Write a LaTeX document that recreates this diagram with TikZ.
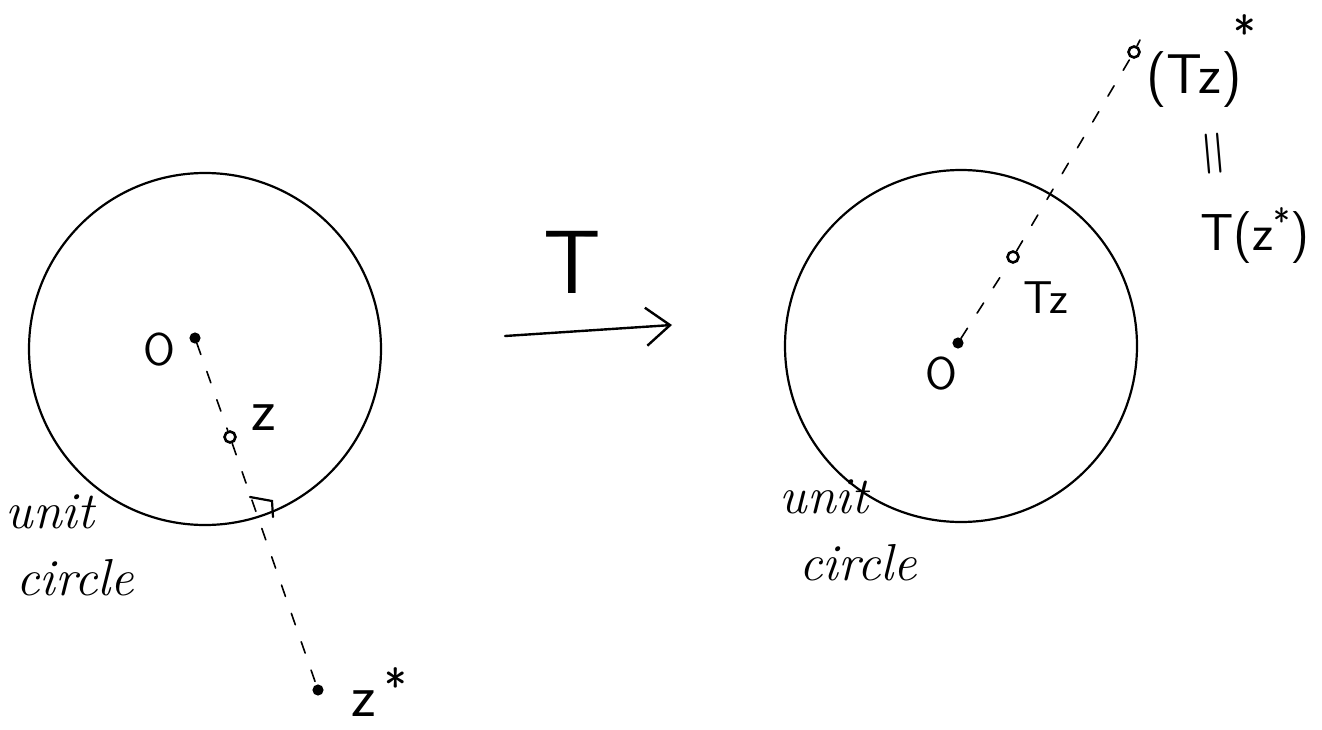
\documentclass[tikz,border=0pt]{standalone}
\usetikzlibrary{arrows.meta}
\begin{document}
\begin{tikzpicture}[x=1pt,y=-1pt,line cap=round,
  ring/.style={circle,draw,line width=2.2pt,minimum size=352pt,inner sep=0pt},
  pt/.style={circle,draw,line width=2.6pt,inner sep=0pt,minimum size=11pt,fill=white},
  fpt/.style={circle,draw,line width=2pt,inner sep=0pt,minimum size=9pt,fill=black},
  lbl/.style={font=\sffamily\fontsize{46}{50}\selectfont,inner sep=0pt},
  zl/.style={font=\sffamily\fontsize{60}{64}\selectfont,inner sep=0pt},
  big/.style={font=\sffamily\fontsize{90}{96}\selectfont,inner sep=0pt},
  star/.style={font=\sffamily\fontsize{48}{52}\selectfont,inner sep=0pt},
  cursive/.style={font=\itshape\fontsize{52}{56}\selectfont,inner sep=0pt},
  dline/.style={line width=1.6pt,dash pattern=on 12pt off 18pt}]
\useasboundingbox (0,0) rectangle (1322,730);
% left circle
\node[ring] (c1) at (205,349) {};
\node[fpt] (o1) at (195,338) {};
\node[lbl] (o1l) at (159,350) {O};
\node[pt] (z1) at (230,437) {};
\node[zl] (z1l) at (264,418) {z};
\node[fpt] (zs1) at (318,690) {};
\node[zl] (zs1l) at (364,704) {z};
\node[star] (zs1s) at (396,686) {*};
\draw[dline] (o1) -- (z1);
\draw[dline] (z1) -- (zs1);
\draw[line width=2.2pt] (250,497) -- (272,501) -- (273,517);
\node[cursive] (u1) at (50,512) {unit};
\node[cursive] (ci1) at (75,578) {circle};
% arrow
\coordinate (a1) at (505,336);
\coordinate (a2) at (672,325);
\draw[line width=2.4pt,-{Straight Barb[length=24pt,width=38pt]}] (a1) -- (a2);
\node[big] (t) at (572,262) {T};
% right circle
\node[ring] (c2) at (961,346) {};
\node[fpt] (o2) at (958,343) {};
\node[lbl] (o2l) at (941,374) {O};
\node[pt] (tz) at (1013,257) {};
\node[lbl] (tzl) at (1046,298) {Tz};
\node[pt] (tzs) at (1134,52) {};
\coordinate (end2) at (1140,40);
\draw[dline] (o2) -- (tz);
\draw[dline] (tz) -- (tzs);
\draw[line width=1.6pt] (tzs) -- (end2);
\node[lbl,font=\sffamily\fontsize{56}{60}\selectfont] (tzsl) at (1194,80) {(Tz)};
\node[star] (tzss) at (1245,33) {*};
\node[lbl,rotate=95,font=\sffamily\fontsize{64}{68}\selectfont] (eq) at (1218,153) {=};
\node[lbl,font=\sffamily\fontsize{52}{56}\selectfont,anchor=west] (tzs2) at (1200,236) {T(z\raisebox{16pt}{\fontsize{36}{40}\selectfont*})};
\node[cursive] (u2) at (824,497) {unit};
\node[cursive] (ci2) at (858,563) {circle};
\end{tikzpicture}
\end{document}
